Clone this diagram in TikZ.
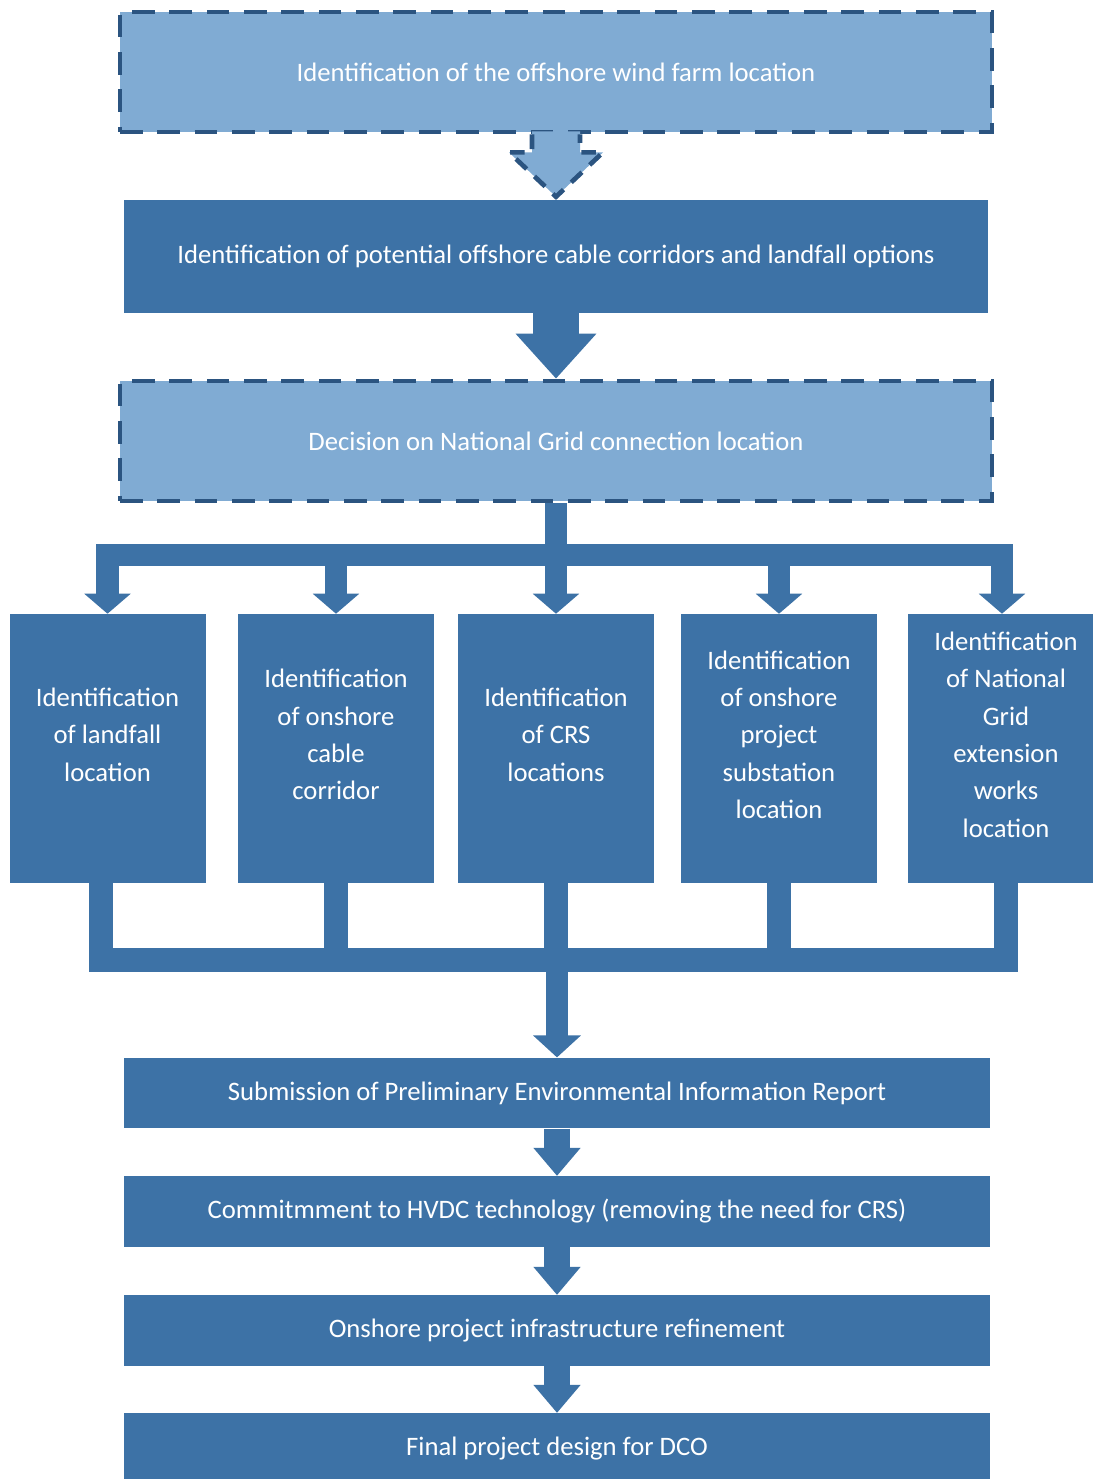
\documentclass[tikz,border=0pt]{standalone}
\usepackage{fontspec}
\setmainfont{Carlito}
\usetikzlibrary{arrows.meta, calc}
\definecolor{osbg}{HTML}{FFFFFF}
\definecolor{osdark}{HTML}{3D72A6}
\definecolor{oslight}{HTML}{80ABD3}
\definecolor{osedge}{HTML}{2B5480}
\tikzset{
  stage/.style={rectangle, fill=osdark, text=white, font=\fontsize{20}{28}\selectfont,
                align=center, inner sep=0pt},
  stagedash/.style={stage, fill=oslight, draw=osedge, line width=3.5pt,
                dash pattern=on 17pt off 11pt},
  pick/.style={stage, minimum width=147pt, minimum height=201.75pt,
               label={[text=white, font=\fontsize{20}{28}\selectfont, align=center, yshift=10.5pt]center:{#1}}},
  wide/.style={stage, minimum width=649.5pt, minimum height=53pt},
  flowbig/.style={draw=osdark, line width=34pt, -{Triangle[length=33.75pt 0, width=58.5pt 0]}},
  flow/.style={draw=osdark, line width=19.5pt, -{Triangle[length=21pt 0, width=34pt 0]}},
  fork/.style={draw=osdark, line width=17pt},
  forkarr/.style={fork, -{Triangle[length=15pt 0, width=34pt 0]}},
  joinline/.style={draw=osdark, line width=18pt},
  joinarr/.style={draw=osdark, line width=16.5pt, -{Triangle[length=16.5pt 0, width=35pt 0]}},
  arrowdash/.style={draw=osedge, line width=3.5pt, dash pattern=on 11pt off 8pt},
}

\begin{document}
\begin{tikzpicture}[x=0.75pt,y=-0.75pt]
    \useasboundingbox (0,0) rectangle (1093,1479);
    \clip (0,0) rectangle (1093,1479);
    \fill[osbg] (0,0) rectangle (1093,1479);
    % top chain
    \node[stagedash, minimum width=654pt, minimum height=90pt] (wind) at (556,72)
        {Identification of the offshore wind farm location};
    \node[stage, minimum width=648pt, minimum height=84.75pt] (corr) at (556,256.5)
        {Identification of potential offshore cable corridors and landfall options};
    \node[stagedash, minimum width=654pt, minimum height=90pt] (grid) at (556,441)
        {Decision on National Grid connection location};
    % five parallel studies
    \node[pick={Identification\\of landfall\\location}] (land) at (107.5,748.5) {};
    \node[pick={Identification\\of onshore\\cable\\corridor}] (cable) at (336,748.5) {};
    \node[pick={Identification\\of CRS\\locations}] (crs) at (556,748.5) {};
    \node[pick={Identification\\of onshore\\project\\substation\\location}] (subst) at (779,748.5) {};
    \node[pick={Identification\\of National\\Grid\\extension\\works\\location}] (ngext) at (1006,748.5) {};
    % bottom chain
    \node[wide] (peir) at (557,1093) {Submission of Preliminary Environmental Information Report};
    \node[wide] (hvdc) at (557,1211.5) {Commitmment to HVDC technology (removing the need for CRS)};
    \node[wide] (refine) at (557,1330.5) {Onshore project infrastructure refinement};
    \node[wide] (dco) at (557,1448.5) {Final project design for DCO};
    \coordinate (fork) at (558,555);
    \coordinate (merge) at (557,959.5);
    % dashed block arrow
    \fill[oslight] ($(wind.south)+(-24,-3)$) -- ($(wind.south)+(-24,18)$) -- ($(wind.south)+(-47,18)$)
        -- ($(corr.north)+(0,-3)$) -- ($(wind.south)+(47,18)$) -- ($(wind.south)+(24,18)$)
        -- ($(wind.south)+(24,-3)$) -- cycle;
    \draw[arrowdash] ($(wind.south)+(-24,0)$) -- ($(wind.south)+(-24,18)$) -- ($(wind.south)+(-47,18)$)
        -- ($(corr.north)+(0,-3)$) -- ($(wind.south)+(47,18)$) -- ($(wind.south)+(24,18)$)
        -- ($(wind.south)+(24,0)$);
    \draw[flowbig] (corr.south) -- (grid.north);
    % split
    \draw[fork] (grid.south) -- (grid.south |- fork);
    \draw[fork, line cap=rect] (land.north |- fork) -- ([xshift=-3pt]ngext.north |- fork);
    \draw[forkarr] (land.north |- fork) -- (land.north);
    \draw[forkarr] (cable.north |- fork) -- (cable.north);
    \draw[forkarr] (crs.north |- fork) -- (crs.north);
    \draw[forkarr] (subst.north |- fork) -- (subst.north);
    \draw[forkarr] ([xshift=-3pt]ngext.north |- fork) -- ([xshift=-3pt]ngext.north);
    % merge
    \draw[joinline] ([xshift=-5.25pt]land.south) -- ([xshift=-5.25pt]land.south |- merge);
    \draw[joinline] (cable.south) -- (cable.south |- merge);
    \draw[joinline] (crs.south) -- (crs.south |- merge);
    \draw[joinline] (subst.south) -- (subst.south |- merge);
    \draw[joinline] (ngext.south) -- (ngext.south |- merge);
    \draw[joinline, line cap=rect] ([xshift=-5.25pt]land.south |- merge) -- (ngext.south |- merge);
    \draw[joinarr] (merge) -- (peir.north);
    \draw[flow] (peir) -- (hvdc);
    \draw[flow] (hvdc) -- (refine);
    \draw[flow] (refine) -- (dco);
\end{tikzpicture}
\end{document}
